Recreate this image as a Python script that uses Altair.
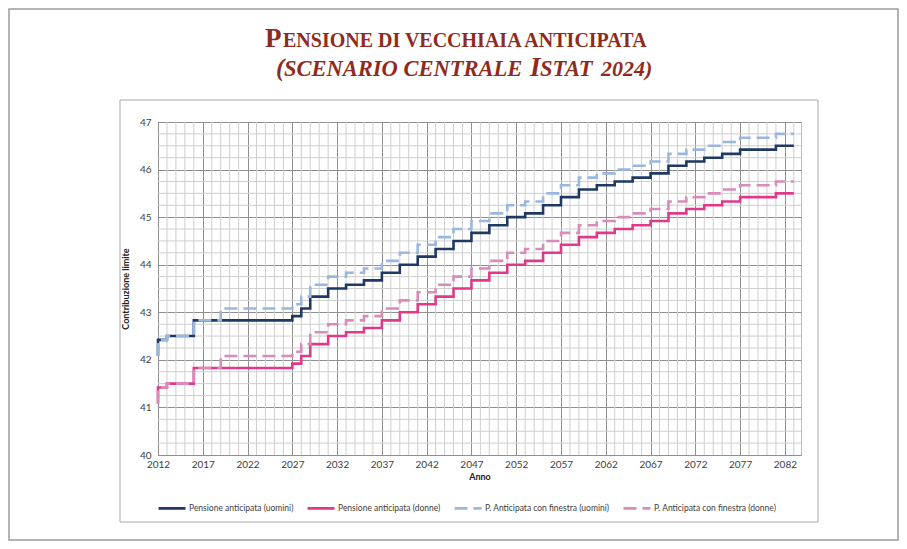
import altair as alt
import pandas as pd

# ---------------- data ----------------
years = list(range(2012, 2084))

uomini = [42.08, 42.42, 42.50, 42.50, 42.50, 42.83, 42.83, 42.83, 42.83, 42.83,
          42.83, 42.83, 42.83, 42.83, 42.83, 42.83, 42.92, 43.08, 43.33, 43.33,
          43.50, 43.50, 43.58, 43.58, 43.67, 43.67, 43.83, 43.83, 44.00, 44.00,
          44.17, 44.17, 44.33, 44.33, 44.50, 44.50, 44.67, 44.67, 44.83, 44.83,
          45.00, 45.00, 45.08, 45.08, 45.25, 45.25, 45.42, 45.42, 45.58, 45.58,
          45.67, 45.67, 45.75, 45.75, 45.83, 45.83, 45.92, 45.92, 46.08, 46.08,
          46.17, 46.17, 46.25, 46.25, 46.33, 46.33, 46.42, 46.42, 46.42, 46.42,
          46.50, 46.50]

donne = [41.08, 41.42, 41.50, 41.50, 41.50, 41.83, 41.83, 41.83, 41.83, 41.83,
         41.83, 41.83, 41.83, 41.83, 41.83, 41.83, 41.92, 42.08, 42.33, 42.33,
         42.50, 42.50, 42.58, 42.58, 42.67, 42.67, 42.83, 42.83, 43.00, 43.00,
         43.17, 43.17, 43.33, 43.33, 43.50, 43.50, 43.67, 43.67, 43.83, 43.83,
         44.00, 44.00, 44.08, 44.08, 44.25, 44.25, 44.42, 44.42, 44.58, 44.58,
         44.67, 44.67, 44.75, 44.75, 44.83, 44.83, 44.92, 44.92, 45.08, 45.08,
         45.17, 45.17, 45.25, 45.25, 45.33, 45.33, 45.42, 45.42, 45.42, 45.42,
         45.50, 45.50]

fin_uomini = [42.08, 42.42, 42.50, 42.50, 42.50, 42.83, 42.83, 42.83, 43.08, 43.08,
              43.08, 43.08, 43.08, 43.08, 43.08, 43.08, 43.17, 43.33, 43.58, 43.58,
              43.75, 43.75, 43.83, 43.83, 43.92, 43.92, 44.08, 44.08, 44.25, 44.25,
              44.42, 44.42, 44.58, 44.58, 44.75, 44.75, 44.92, 44.92, 45.08, 45.08,
              45.25, 45.25, 45.33, 45.33, 45.50, 45.50, 45.67, 45.67, 45.83, 45.83,
              45.92, 45.92, 46.00, 46.00, 46.08, 46.08, 46.17, 46.17, 46.33, 46.33,
              46.42, 46.42, 46.50, 46.50, 46.58, 46.58, 46.67, 46.67, 46.67, 46.67,
              46.75, 46.75]

fin_donne = [41.08, 41.42, 41.50, 41.50, 41.50, 41.83, 41.83, 41.83, 42.08, 42.08,
             42.08, 42.08, 42.08, 42.08, 42.08, 42.08, 42.17, 42.33, 42.58, 42.58,
             42.75, 42.75, 42.83, 42.83, 42.92, 42.92, 43.08, 43.08, 43.25, 43.25,
             43.42, 43.42, 43.58, 43.58, 43.75, 43.75, 43.92, 43.92, 44.08, 44.08,
             44.25, 44.25, 44.33, 44.33, 44.50, 44.50, 44.67, 44.67, 44.83, 44.83,
             44.92, 44.92, 45.00, 45.00, 45.08, 45.08, 45.17, 45.17, 45.33, 45.33,
             45.42, 45.42, 45.50, 45.50, 45.58, 45.58, 45.67, 45.67, 45.67, 45.67,
             45.75, 45.75]

series_names = ["Pensione anticipata (uomini)", "Pensione anticipata (donne)",
                "P. Anticipata con finestra (uomini)", "P. Anticipata con finestra (donne)"]
series_values = [uomini, donne, fin_uomini, fin_donne]

x_ticks = list(range(2012, 2083, 5))
y_ticks = list(range(40, 48))
x_minor = [y for y in range(2012, 2084) if (y - 2012) % 5 != 0]
y_minor = [40 + 0.25 * k for k in range(29) if k % 4 != 0]

# ---------------- style ----------------
colors = ["#203864", "#e0398a", "#9ab7df", "#d98bba"]
dashes = [[1, 0], [1, 0], [13, 6], [13, 6]]
TITLE_COLOR = "#8e2b21"
FONT = "Lato"

rows = []
for name, vals in zip(series_names, series_values):
    for yr, v in zip(years, vals):
        rows.append({"anno": yr, "valore": v, "serie": name})
df = pd.DataFrame(rows)

W, H = 643, 333
PL, PT = 150, 114
OX, OY = PL + 8, PT + 8  # plot origin in page coordinates

xscale = alt.Scale(domain=[2012, 2083.8], nice=False, zero=False)
yscale = alt.Scale(domain=[40, 47], nice=False, zero=False)

xaxis = alt.Axis(values=x_ticks, format="d", grid=True, gridColor="#8f8f8f",
                 domainColor="#8f8f8f", ticks=False, labelFont=FONT, labelFontSize=10,
                 labelColor="#404040", labelPadding=4, labelFlush=False,
                 labelOverlap=False, title="Anno", titleFont=FONT, titleFontSize=9,
                 titleFontWeight="bold", titleColor="#222222", titlePadding=3)
yaxis = alt.Axis(values=y_ticks, format="d", grid=True, gridColor="#8f8f8f",
                 domainColor="#8f8f8f", ticks=False, labelFont=FONT, labelFontSize=10,
                 labelColor="#404040", labelPadding=7, labelFlush=False,
                 title="Contribuzione limite", titleFont=FONT, titleFontSize=9,
                 titleFontWeight="bold", titleColor="#222222", titlePadding=9)

color_enc = alt.Color("serie:N", scale=alt.Scale(domain=series_names, range=colors),
                      legend=alt.Legend(title=None))
dash_enc = alt.StrokeDash("serie:N", scale=alt.Scale(domain=series_names, range=dashes),
                          legend=alt.Legend(title=None))

one = pd.DataFrame({"k": [0]})

# frames
outer = alt.Chart(one).mark_rect(fillOpacity=0, stroke="#9c9c9c", strokeWidth=1.5).encode(
    x=alt.value(-PL + 1), x2=alt.value(-PL + 890), y=alt.value(-PT + 1), y2=alt.value(-PT + 532))
inner = alt.Chart(one).mark_rect(fillOpacity=0, stroke="#a8a8a8", strokeWidth=1).encode(
    x=alt.value(120 - OX), x2=alt.value(818 - OX), y=alt.value(100 - OY), y2=alt.value(522 - OY))

# minor grid
gx = alt.Chart(pd.DataFrame({"g": x_minor})).mark_rule(color="#cfcfcf", strokeWidth=1).encode(
    x=alt.X("g:Q", scale=xscale, axis=xaxis))
gy = alt.Chart(pd.DataFrame({"g": y_minor})).mark_rule(color="#cfcfcf", strokeWidth=1).encode(
    y=alt.Y("g:Q", scale=yscale, axis=yaxis))

def lines(names):
    return alt.Chart(df).transform_filter(
        alt.FieldOneOfPredicate(field="serie", oneOf=names)
    ).mark_line(interpolate="step-before", strokeWidth=2.6).encode(
        x=alt.X("anno:Q", scale=xscale, axis=xaxis),
        y=alt.Y("valore:Q", scale=yscale, axis=yaxis),
        color=color_enc,
        strokeDash=dash_enc,
    )

solid = lines(series_names[:2])
dashed = lines(series_names[2:])

def txt(s, px, py, size, italic=False):
    return alt.Chart(one).mark_text(
        text=s, align="left", baseline="alphabetic", font="Liberation Serif",
        fontSize=size, fontWeight="bold", fontStyle="italic" if italic else "normal",
        color=TITLE_COLOR,
    ).encode(x=alt.value(px - OX), y=alt.value(py - OY))

titles = [
    txt("P", 265, 47, 27),
    txt("ENSIONE DI VECCHIAIA ANTICIPATA", 283, 47, 20),
    txt("(", 276, 76, 25, True),
    txt("SCENARIO CENTRALE", 284, 76, 22.5, True),
    txt("I", 530, 76, 27, True),
    txt("STAT", 540, 76, 22.5, True),
    txt("2024)", 601, 76, 22, True),
]

chart = alt.layer(outer, inner, gx, gy, solid, dashed, *titles).properties(
    width=W, height=H,
    autosize=alt.AutoSizeParams(type="none"),
    padding={"left": PL, "top": PT, "right": 98, "bottom": 86},
    background="white",
).configure_view(stroke="#bdbdbd").configure_legend(
    orient="none", legendX=-1, legendY=371, direction="horizontal",
    symbolType="stroke", symbolSize=729, symbolStrokeWidth=2.6,
    labelFont=FONT, labelFontSize=8.5, labelColor="#404040",
    labelOffset=2, columnPadding=8, symbolOpacity=1,
)

chart.save("out.html", embed_options={"renderer": "svg", "actions": False})
